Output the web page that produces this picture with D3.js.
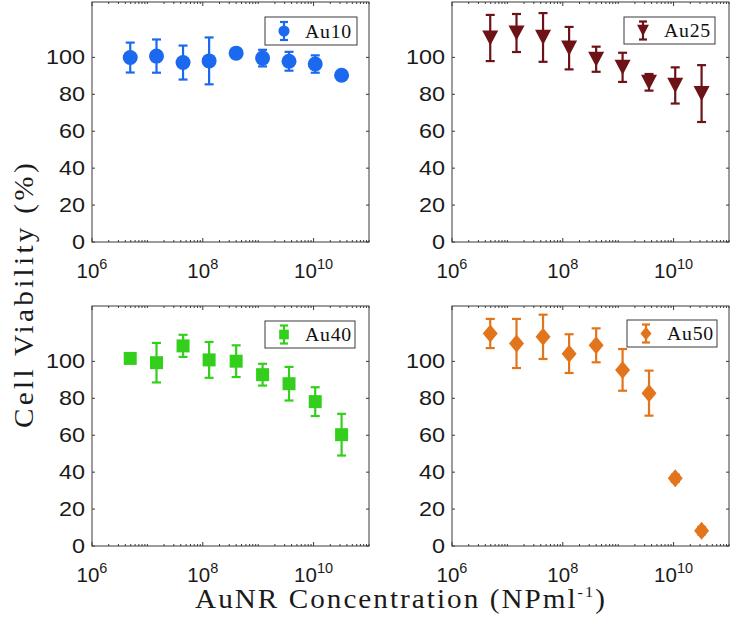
<!DOCTYPE html>
<html>
<head>
<meta charset="utf-8">
<script src="https://cdn.jsdelivr.net/npm/d3@7"></script>
<style>
  html, body { margin: 0; padding: 0; background: #fff; }
  svg { display: block; }
</style>
</head>
<body>
<svg id="chart" width="733" height="635"></svg>
<script>
// ---------------- data ----------------
const concentrations = [4.9e6, 1.46e7, 4.4e7, 1.3e8, 4.0e8, 1.2e9, 3.6e9, 1.07e10, 3.2e10];

const au10Mean = [99.9, 100.7, 97.2, 98.1, 102.3, 99.6, 97.9, 96.4, 90.3];
const au10Err  = [8.1, 9.0, 9.2, 12.7, 2.0, 4.5, 5.1, 4.7, 1.5];

const au25Mean = [110.5, 113.2, 110.8, 105.0, 99.0, 94.6, 86.5, 84.8, 80.4];
const au25Err  = [12.5, 10.3, 13.2, 11.5, 6.8, 7.9, 4.5, 9.8, 15.4];

const au40Mean = [101.6, 99.3, 108.4, 100.8, 100.1, 92.8, 87.9, 78.2, 60.3];
const au40Err  = [2.0, 10.7, 6.0, 9.7, 8.6, 5.9, 9.1, 7.8, 11.3];

const au50Mean = [115.1, 109.7, 113.3, 104.2, 108.7, 95.4, 82.8, 36.7, 8.3];
const au50Err  = [7.9, 13.3, 12.0, 10.5, 9.2, 11.3, 12.2, 2.0, 2.0];

const seriesNames = ["Au10", "Au25", "Au40", "Au50"];
const yTicks = [0, 20, 40, 60, 80, 100];
const xMajorExps = [6, 8, 10];
const yLabel = "Cell Viability (%)";
const xLabelMain = "AuNR Concentration (NPml";
const xLabelSup = "-1";

// ---------------- layout / style ----------------
const colors = ["#1b69ee", "#6d1217", "#33cf1c", "#e2751b"];
const panels = [
  {x0: 92,  x1: 369, y0: 2,   y1: 242, mean: au10Mean, err: au10Err, shape: "circle",   legend: {x: 265, y: 17,  w: 92, h: 28}},
  {x0: 452, x1: 729, y0: 2,   y1: 242, mean: au25Mean, err: au25Err, shape: "triangle", legend: {x: 624, y: 17,  w: 91, h: 27}},
  {x0: 92,  x1: 369, y0: 306, y1: 546, mean: au40Mean, err: au40Err, shape: "square",   legend: {x: 265, y: 321, w: 90, h: 27}},
  {x0: 452, x1: 729, y0: 306, y1: 546, mean: au50Mean, err: au50Err, shape: "diamond",  legend: {x: 627, y: 320, w: 90, h: 27}}
];

const shapes = {
  circle:   { draw(ctx, s) { const r = Math.sqrt(s) / 2; ctx.moveTo(r, 0); ctx.arc(0, 0, r, 0, 2 * Math.PI); } },
  triangle: { draw(ctx, s) { const w = Math.sqrt(s); const h = w * 0.95; ctx.moveTo(-w/2, -h/2); ctx.lineTo(w/2, -h/2); ctx.lineTo(0, h/2); ctx.closePath(); } },
  square:   { draw(ctx, s) { const w = Math.sqrt(s); ctx.rect(-w/2, -w/2, w, w); } },
  diamond:  { draw(ctx, s) { const w = Math.sqrt(s); const h = w * 1.2; ctx.moveTo(0, -h/2); ctx.lineTo(w/2, 0); ctx.lineTo(0, h/2); ctx.lineTo(-w/2, 0); ctx.closePath(); } }
};
const shapeSize = {circle: 15*15, triangle: 16*16, square: 13*13, diamond: 15*15};

const svg = d3.select("#chart");
const axisColor = "#3a3a3a";
const sans = "'Liberation Sans', Arial, Helvetica, sans-serif";
const serif = "'Liberation Serif', 'Times New Roman', serif";

// widen a text to a target width: mostly via letter spacing, a little via horizontal scale
function fitText(sel, target, scale, nChars) {
  const w = sel.node().getComputedTextLength();
  const ls = Math.max(0, (target / scale - w) / nChars);
  sel.attr("letter-spacing", ls).attr("transform", `scale(${scale},1)`);
}

panels.forEach((p, i) => {
  const color = colors[i];
  const x = d3.scaleLog().domain([1e6, 1e11]).range([p.x0, p.x1]);
  const y = d3.scaleLinear().domain([0, 130]).range([p.y1, p.y0]);
  const g = svg.append("g");

  // minor/major x ticks (inward, bottom and top)
  const minor = [];
  for (let e = 6; e < 11; e++) for (let k = 1; k <= 9; k++) minor.push(k * Math.pow(10, e));
  minor.push(1e11);
  minor.forEach(v => {
    const isMajor = xMajorExps.some(e => Math.abs(v - Math.pow(10, e)) < 1);
    const len = isMajor ? 4 : 2;
    const xx = x(v);
    g.append("line").attr("x1", xx).attr("x2", xx).attr("y1", p.y1).attr("y2", p.y1 - len)
      .attr("stroke", axisColor).attr("stroke-width", 1);
    g.append("line").attr("x1", xx).attr("x2", xx).attr("y1", p.y0).attr("y2", p.y0 + len)
      .attr("stroke", axisColor).attr("stroke-width", 1);
  });
  // y ticks inward left and right, labels
  yTicks.forEach(t => {
    const yy = y(t);
    g.append("line").attr("x1", p.x0).attr("x2", p.x0 + 3).attr("y1", yy).attr("y2", yy)
      .attr("stroke", axisColor);
    g.append("line").attr("x1", p.x1).attr("x2", p.x1 - 3).attr("y1", yy).attr("y2", yy)
      .attr("stroke", axisColor);
    g.append("g").attr("transform", `translate(${p.x0 - 7},${yy + 7}) scale(1.2,1)`)
      .append("text").attr("text-anchor", "end").attr("font-family", sans).attr("font-size", 19.5)
      .attr("fill", "#1a1a1a").text(t);
  });
  // x tick labels
  xMajorExps.forEach(e => {
    const t = g.append("text").attr("x", x(Math.pow(10, e))).attr("y", p.y1 + 36)
      .attr("text-anchor", "middle").attr("font-family", sans).attr("font-size", 20.5).attr("fill", "#1a1a1a");
    t.append("tspan").text("10");
    t.append("tspan").attr("dy", -9).attr("font-size", 14.5).text(e);
  });
  // box
  g.append("rect").attr("x", p.x0).attr("y", p.y0).attr("width", p.x1 - p.x0).attr("height", p.y1 - p.y0)
    .attr("fill", "none").attr("stroke", axisColor).attr("stroke-width", 1);

  // error bars
  const cap = 4.5;
  concentrations.forEach((c, j) => {
    const xx = x(c), lo = y(p.mean[j] - p.err[j]), hi = y(p.mean[j] + p.err[j]);
    g.append("line").attr("x1", xx).attr("x2", xx).attr("y1", lo).attr("y2", hi)
      .attr("stroke", color).attr("stroke-width", 2.2);
    [lo, hi].forEach(yy => g.append("line").attr("x1", xx - cap).attr("x2", xx + cap)
      .attr("y1", yy).attr("y2", yy).attr("stroke", color).attr("stroke-width", 2.2));
  });
  // markers
  const sym = d3.symbol().type(shapes[p.shape]).size(shapeSize[p.shape]);
  g.selectAll("path.mk").data(concentrations).join("path").attr("class", "mk")
    .attr("transform", (c, j) => `translate(${x(c)},${y(p.mean[j])})`)
    .attr("d", sym).attr("fill", color);

  // legend
  const L = p.legend;
  const lg = g.append("g");
  lg.append("rect").attr("x", L.x).attr("y", L.y).attr("width", L.w).attr("height", L.h)
    .attr("fill", "#fff").attr("stroke", axisColor).attr("stroke-width", 1);
  const lx = L.x + 19, ly = L.y + L.h / 2;
  lg.append("line").attr("x1", lx).attr("x2", lx).attr("y1", ly - 9).attr("y2", ly + 9)
    .attr("stroke", color).attr("stroke-width", 2.2);
  [ly - 9, ly + 9].forEach(yy => lg.append("line").attr("x1", lx - 4).attr("x2", lx + 4)
    .attr("y1", yy).attr("y2", yy).attr("stroke", color).attr("stroke-width", 2.2));
  const lsym = d3.symbol().type(shapes[p.shape]).size(shapeSize[p.shape] * 0.55);
  lg.append("path").attr("transform", `translate(${lx},${ly})`).attr("d", lsym).attr("fill", color);
  const lt = lg.append("g").attr("transform", `translate(${L.x + 40},${ly + 6.5})`)
    .append("text").attr("font-family", serif).attr("font-size", 19).attr("fill", "#111").text(seriesNames[i]);
  fitText(lt, 47, 1.04, 4);
});

// axis titles
const ytG = svg.append("g").attr("transform", "translate(33,294) rotate(-90)");
const yt = ytG.append("text").attr("text-anchor", "middle").attr("font-family", serif).attr("font-size", 27)
  .attr("fill", "#1a1a1a").text(yLabel);
fitText(yt, 268, 1.08, yLabel.length);

const xtG = svg.append("g").attr("transform", "translate(401,608)");
const xt = xtG.append("text").attr("text-anchor", "middle").attr("font-family", serif).attr("font-size", 27).attr("fill", "#1a1a1a");
xt.append("tspan").text(xLabelMain);
xt.append("tspan").attr("dy", -11).attr("font-size", 15).text(xLabelSup);
xt.append("tspan").attr("dy", 11).text(")");
fitText(xt, 412, 1.08, xLabelMain.length + 3);
</script>
</body>
</html>
